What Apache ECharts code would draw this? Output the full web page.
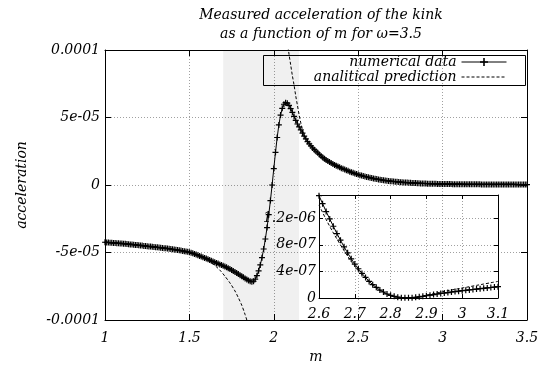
<!DOCTYPE html>
<html>
<head>
<meta charset="utf-8">
<script src="https://cdn.jsdelivr.net/npm/echarts@6/dist/echarts.min.js"></script>
<style>
  html, body { margin: 0; padding: 0; background: #fff; }
  #chart { width: 539px; height: 365px; }
</style>
</head>
<body>
<div id="chart"></div>
<script>
// numerical data, sampled every 0.01 in m, values in units of 1e-5
const M_STEP = 0.01;
const numLeftStart = 1.0;
const numLeft = [
  -4.24, -4.25, -4.26, -4.27, -4.28, -4.29, -4.30, -4.31, -4.32, -4.33,
  -4.34, -4.35, -4.36, -4.37, -4.38, -4.40, -4.41, -4.42, -4.44, -4.45,
  -4.47, -4.48, -4.49, -4.51, -4.52, -4.54, -4.55, -4.56, -4.58, -4.59,
  -4.61, -4.62, -4.63, -4.65, -4.66, -4.68, -4.69, -4.71, -4.72, -4.74,
  -4.76, -4.78, -4.80, -4.82, -4.84, -4.86, -4.88, -4.90, -4.93, -4.95,
  -4.98, -5.02, -5.06, -5.11, -5.15, -5.20, -5.25, -5.30, -5.35, -5.40,
  -5.45, -5.50, -5.56, -5.61, -5.67, -5.72, -5.77, -5.82, -5.88, -5.93,
  -5.98, -6.04, -6.10, -6.17, -6.23, -6.30, -6.37, -6.45, -6.52, -6.60,
  -6.68, -6.76, -6.84, -6.92, -7.00, -7.07, -7.13, -7.17, -7.13
];
const numKinkStart = 1.89;
const numKink = [
  -6.98, -6.72, -6.36, -5.92, -5.38, -4.74, -4.00, -3.15, -2.20, -1.15,
  0.00, 1.22, 2.42, 3.52, 4.45, 5.18, 5.68, 5.98, 6.10, 6.06,
  5.90, 5.66, 5.38, 5.08, 4.78, 4.52, 4.30, 4.08, 3.85, 3.62,
  3.41, 3.22, 3.05, 2.90, 2.75, 2.62, 2.50, 2.38, 2.26, 2.15,
  2.04, 1.94, 1.85, 1.77, 1.70, 1.63, 1.56, 1.49, 1.43, 1.37,
  1.31, 1.25
];
const numTailStart = 2.41;
const numTail = [
  1.20, 1.15, 1.10, 1.05, 0.99, 0.94, 0.90, 0.85, 0.81, 0.77,
  0.73, 0.70, 0.66, 0.63, 0.60, 0.57, 0.54, 0.51, 0.48, 0.46,
  0.44, 0.41, 0.39, 0.37, 0.35, 0.33, 0.32, 0.30, 0.28, 0.27,
  0.26, 0.25, 0.24, 0.22, 0.21, 0.20, 0.19, 0.18, 0.18, 0.17,
  0.16, 0.15, 0.15, 0.14, 0.13, 0.13, 0.12, 0.12, 0.11, 0.11,
  0.10, 0.10, 0.10, 0.09, 0.09, 0.09, 0.08, 0.08, 0.08, 0.08,
  0.07, 0.07, 0.07, 0.07, 0.07, 0.06, 0.06, 0.06, 0.06, 0.06,
  0.06, 0.05, 0.05, 0.05, 0.05, 0.05, 0.05, 0.05, 0.05, 0.05,
  0.05, 0.05, 0.04, 0.04, 0.04, 0.04, 0.04, 0.04, 0.04, 0.04,
  0.04, 0.04, 0.04, 0.04, 0.04, 0.04, 0.04, 0.04, 0.04, 0.04,
  0.04, 0.04, 0.04, 0.03, 0.03, 0.03, 0.03, 0.03, 0.03, 0.03
];

// analytical prediction, two branches around the pole (units of 1e-5)
const anaLeftM = [1.00, 1.10, 1.20, 1.30, 1.40, 1.45, 1.50, 1.55, 1.60, 1.64, 1.68, 1.71, 1.74, 1.77, 1.79, 1.81, 1.83, 1.85];
const anaLeftU = [-4.22, -4.31, -4.43, -4.58, -4.76, -4.88, -5.03, -5.23, -5.52, -5.85, -6.30, -6.75, -7.25, -7.85, -8.35, -8.90, -9.60, -10.4];
const anaRightM = [2.08, 2.09, 2.10, 2.11, 2.12, 2.13, 2.14, 2.15, 2.16, 2.17, 2.18, 2.20, 2.22, 2.25, 2.30, 2.35, 2.40, 2.50, 2.60, 2.70, 2.80, 3.00, 3.20, 3.50];
const anaRightU = [10.6, 9.7, 8.9, 8.1, 7.4, 6.6, 5.9, 5.2, 4.6, 4.1, 3.7, 3.25, 2.92, 2.52, 1.96, 1.57, 1.27, 0.78, 0.47, 0.28, 0.17, 0.08, 0.05, 0.03];

// inset: zoom on 2.6..3.1, values in units of 1e-7
const insetNumStart = 2.6;
const insetNum = [
  15.4, 14.2, 13.0, 11.9, 10.8, 9.7, 8.7, 7.7, 6.8, 5.9,
  5.1, 4.4, 3.7, 3.1, 2.5, 2.0, 1.6, 1.2, 0.9, 0.6,
  0.4, 0.25, 0.12, 0.05, 0.02, 0.02, 0.05, 0.10, 0.17, 0.25,
  0.34, 0.43, 0.52, 0.60, 0.68, 0.75, 0.82, 0.90, 0.97, 1.03,
  1.10, 1.16, 1.22, 1.28, 1.34, 1.40, 1.46, 1.52, 1.58, 1.64,
  1.70
];
const insetAnaM = [2.60, 2.62, 2.64, 2.66, 2.68, 2.70, 2.72, 2.74, 2.76, 2.78, 2.80, 2.82, 2.84, 2.86, 2.88, 2.90, 2.92, 2.94, 2.96, 2.98, 3.00, 3.02, 3.04, 3.06, 3.08, 3.10];
const insetAnaU = [14.0, 11.8, 9.8, 8.0, 6.3, 4.8, 3.5, 2.4, 1.5, 0.8, 0.35, 0.08, 0.0, 0.05, 0.2, 0.42, 0.65, 0.88, 1.1, 1.3, 1.5, 1.7, 1.9, 2.1, 2.3, 2.5];

const bandRange = [1.7, 2.15];

const mainXLabels = ['1', '1.5', '2', '2.5', '3', '3.5'];
const mainYLabels = ['-0.0001', '-5e-05', '0', '5e-05', '0.0001'];
const insetXLabels = ['2.6', '2.7', '2.8', '2.9', '3', '3.1'];
const insetYLabels = ['0', '4e-07', '8e-07', '1.2e-06'];

const seriesNames = ['numerical data', 'analitical prediction'];

function sampled(start, values, scale) {
  return values.map((v, i) => [+(start + i * M_STEP).toFixed(2), v * scale]);
}
function paired(ms, us, scale) {
  return ms.map((m, i) => [m, us[i] * scale]);
}

const numMain = [].concat(
  sampled(numLeftStart, numLeft, 1e-5),
  sampled(numKinkStart, numKink, 1e-5),
  sampled(numTailStart, numTail, 1e-5)
);

const FONT = '"DejaVu Serif", serif';
const textBase = { fontFamily: FONT, fontStyle: 'italic', fontSize: 14, color: '#000' };
const PLUS = 'path://M4,0H6V4H10V6H6V10H4V6H0V4H4Z';
const gridLine = { show: true, lineStyle: { color: '#a0a0a0', type: [1, 2], width: 1 } };
const blackLine = { show: true, onZero: false, lineStyle: { color: '#000', width: 1 } };
const dashed = { color: '#000', width: 1, type: [3, 2] };

function mirrorAxis(gridIndex, position, min, max, interval, len) {
  return {
    type: 'value', gridIndex, position, min, max, interval, z: 3,
    axisLine: blackLine,
    axisTick: { show: true, inside: true, length: len, lineStyle: { color: '#000' } },
    axisLabel: { show: false },
    splitLine: { show: false }
  };
}

const chart = echarts.init(document.getElementById('chart'), null, { renderer: 'canvas' });

chart.setOption({
  animation: false,
  backgroundColor: '#fff',
  title: {
    text: 'Measured acceleration of the kink\nas a function of m for \u03c9=3.5',
    left: 316,
    top: 1,
    textAlign: 'center',
    textStyle: Object.assign({}, textBase, { fontWeight: 'normal', lineHeight: 19 })
  },
  legend: [
    {
      data: [seriesNames[0]], right: 32, top: 55, align: 'right', padding: 0,
      itemWidth: 45, itemHeight: 10, textStyle: textBase, selectedMode: false,
      lineStyle: { width: 1 }
    },
    {
      data: [{ name: seriesNames[1], itemStyle: { opacity: 0 } }],
      right: 32, top: 70, align: 'right', padding: 0,
      itemWidth: 45, itemHeight: 10, textStyle: textBase, selectedMode: false,
      lineStyle: { width: 1 }
    }
  ],
  graphic: [
    {
      type: 'rect', z: 10, silent: true,
      shape: { x: 263.5, y: 55.5, width: 262, height: 30 },
      style: { fill: 'none', stroke: '#000', lineWidth: 1 }
    }
  ],
  grid: [
    { left: 105, right: 12, top: 50, bottom: 45, containLabel: false, outerBoundsMode: 'none' },
    {
      left: 319, top: 195, width: 179, height: 103, containLabel: false, outerBoundsMode: 'none',
      show: true, backgroundColor: '#fff', borderWidth: 0
    }
  ],
  xAxis: [
    {
      type: 'value', gridIndex: 0, position: 'bottom', min: 1, max: 3.5, interval: 0.5,
      axisLine: blackLine,
      axisTick: { show: true, inside: true, length: 6, lineStyle: { color: '#000' } },
      axisLabel: Object.assign({ margin: 11, formatter: (v, i) => mainXLabels[i] ?? '' }, textBase),
      splitLine: gridLine,
      name: 'm', nameLocation: 'middle', nameGap: 26, nameTextStyle: textBase
    },
    mirrorAxis(0, 'top', 1, 3.5, 0.5, 6),
    {
      type: 'value', gridIndex: 1, position: 'bottom', min: 2.6, max: 3.1, interval: 0.1, z: 3,
      axisLine: blackLine,
      axisTick: { show: true, inside: true, length: 4, lineStyle: { color: '#000' } },
      axisLabel: Object.assign({ margin: 9, formatter: (v, i) => insetXLabels[i] ?? '' }, textBase),
      splitLine: gridLine
    },
    mirrorAxis(1, 'top', 2.6, 3.1, 0.1, 4)
  ],
  yAxis: [
    {
      type: 'value', gridIndex: 0, position: 'left', min: -1e-4, max: 1e-4, interval: 5e-5,
      axisLine: blackLine,
      axisTick: { show: true, inside: true, length: 6, lineStyle: { color: '#000' } },
      axisLabel: Object.assign({ margin: 5, formatter: (v, i) => mainYLabels[i] ?? '' }, textBase),
      splitLine: gridLine,
      name: 'acceleration', nameLocation: 'middle', nameGap: 76, nameRotate: 90, nameTextStyle: textBase
    },
    mirrorAxis(0, 'right', -1e-4, 1e-4, 5e-5, 6),
    {
      type: 'value', gridIndex: 1, position: 'left', min: 0, max: 1.55e-6, interval: 4e-7, z: 3,
      axisLine: blackLine,
      axisTick: { show: true, inside: true, length: 4, lineStyle: { color: '#000' } },
      axisLabel: Object.assign({ margin: 3, formatter: (v, i) => insetYLabels[i] ?? '' }, textBase),
      splitLine: gridLine
    },
    mirrorAxis(1, 'right', 0, 1.55e-6, 4e-7, 4)
  ],
  series: [
    {
      name: seriesNames[0], type: 'line', xAxisIndex: 0, yAxisIndex: 0,
      data: numMain,
      symbol: PLUS, symbolSize: 6, showSymbol: true, showAllSymbol: true,
      lineStyle: { color: '#000', width: 1 },
      itemStyle: { color: '#000' },
      markArea: {
        silent: true,
        itemStyle: { color: 'rgba(0,0,0,0.06)' },
        data: [[{ xAxis: bandRange[0] }, { xAxis: bandRange[1] }]]
      }
    },
    {
      name: seriesNames[1], type: 'line', xAxisIndex: 0, yAxisIndex: 0,
      data: paired(anaLeftM, anaLeftU, 1e-5),
      symbol: 'none', smooth: 0.3,
      lineStyle: dashed, itemStyle: { color: '#000' }
    },
    {
      name: seriesNames[1], type: 'line', xAxisIndex: 0, yAxisIndex: 0,
      data: paired(anaRightM, anaRightU, 1e-5),
      symbol: 'none', smooth: 0.3,
      lineStyle: dashed, itemStyle: { color: '#000' }
    },
    {
      name: 'inset numerical', type: 'line', xAxisIndex: 2, yAxisIndex: 2, z: 4,
      data: insetNum.map((v, i) => [+(insetNumStart + i * M_STEP).toFixed(2), v * 1e-7]),
      symbol: PLUS, symbolSize: 6, showSymbol: true, showAllSymbol: true,
      lineStyle: { color: '#000', width: 1 },
      itemStyle: { color: '#000' }
    },
    {
      name: 'inset analytical', type: 'line', xAxisIndex: 2, yAxisIndex: 2, z: 4,
      data: paired(insetAnaM, insetAnaU, 1e-7),
      symbol: 'none', smooth: 0.3,
      lineStyle: dashed, itemStyle: { color: '#000' }
    }
  ]
});
</script>
</body>
</html>
